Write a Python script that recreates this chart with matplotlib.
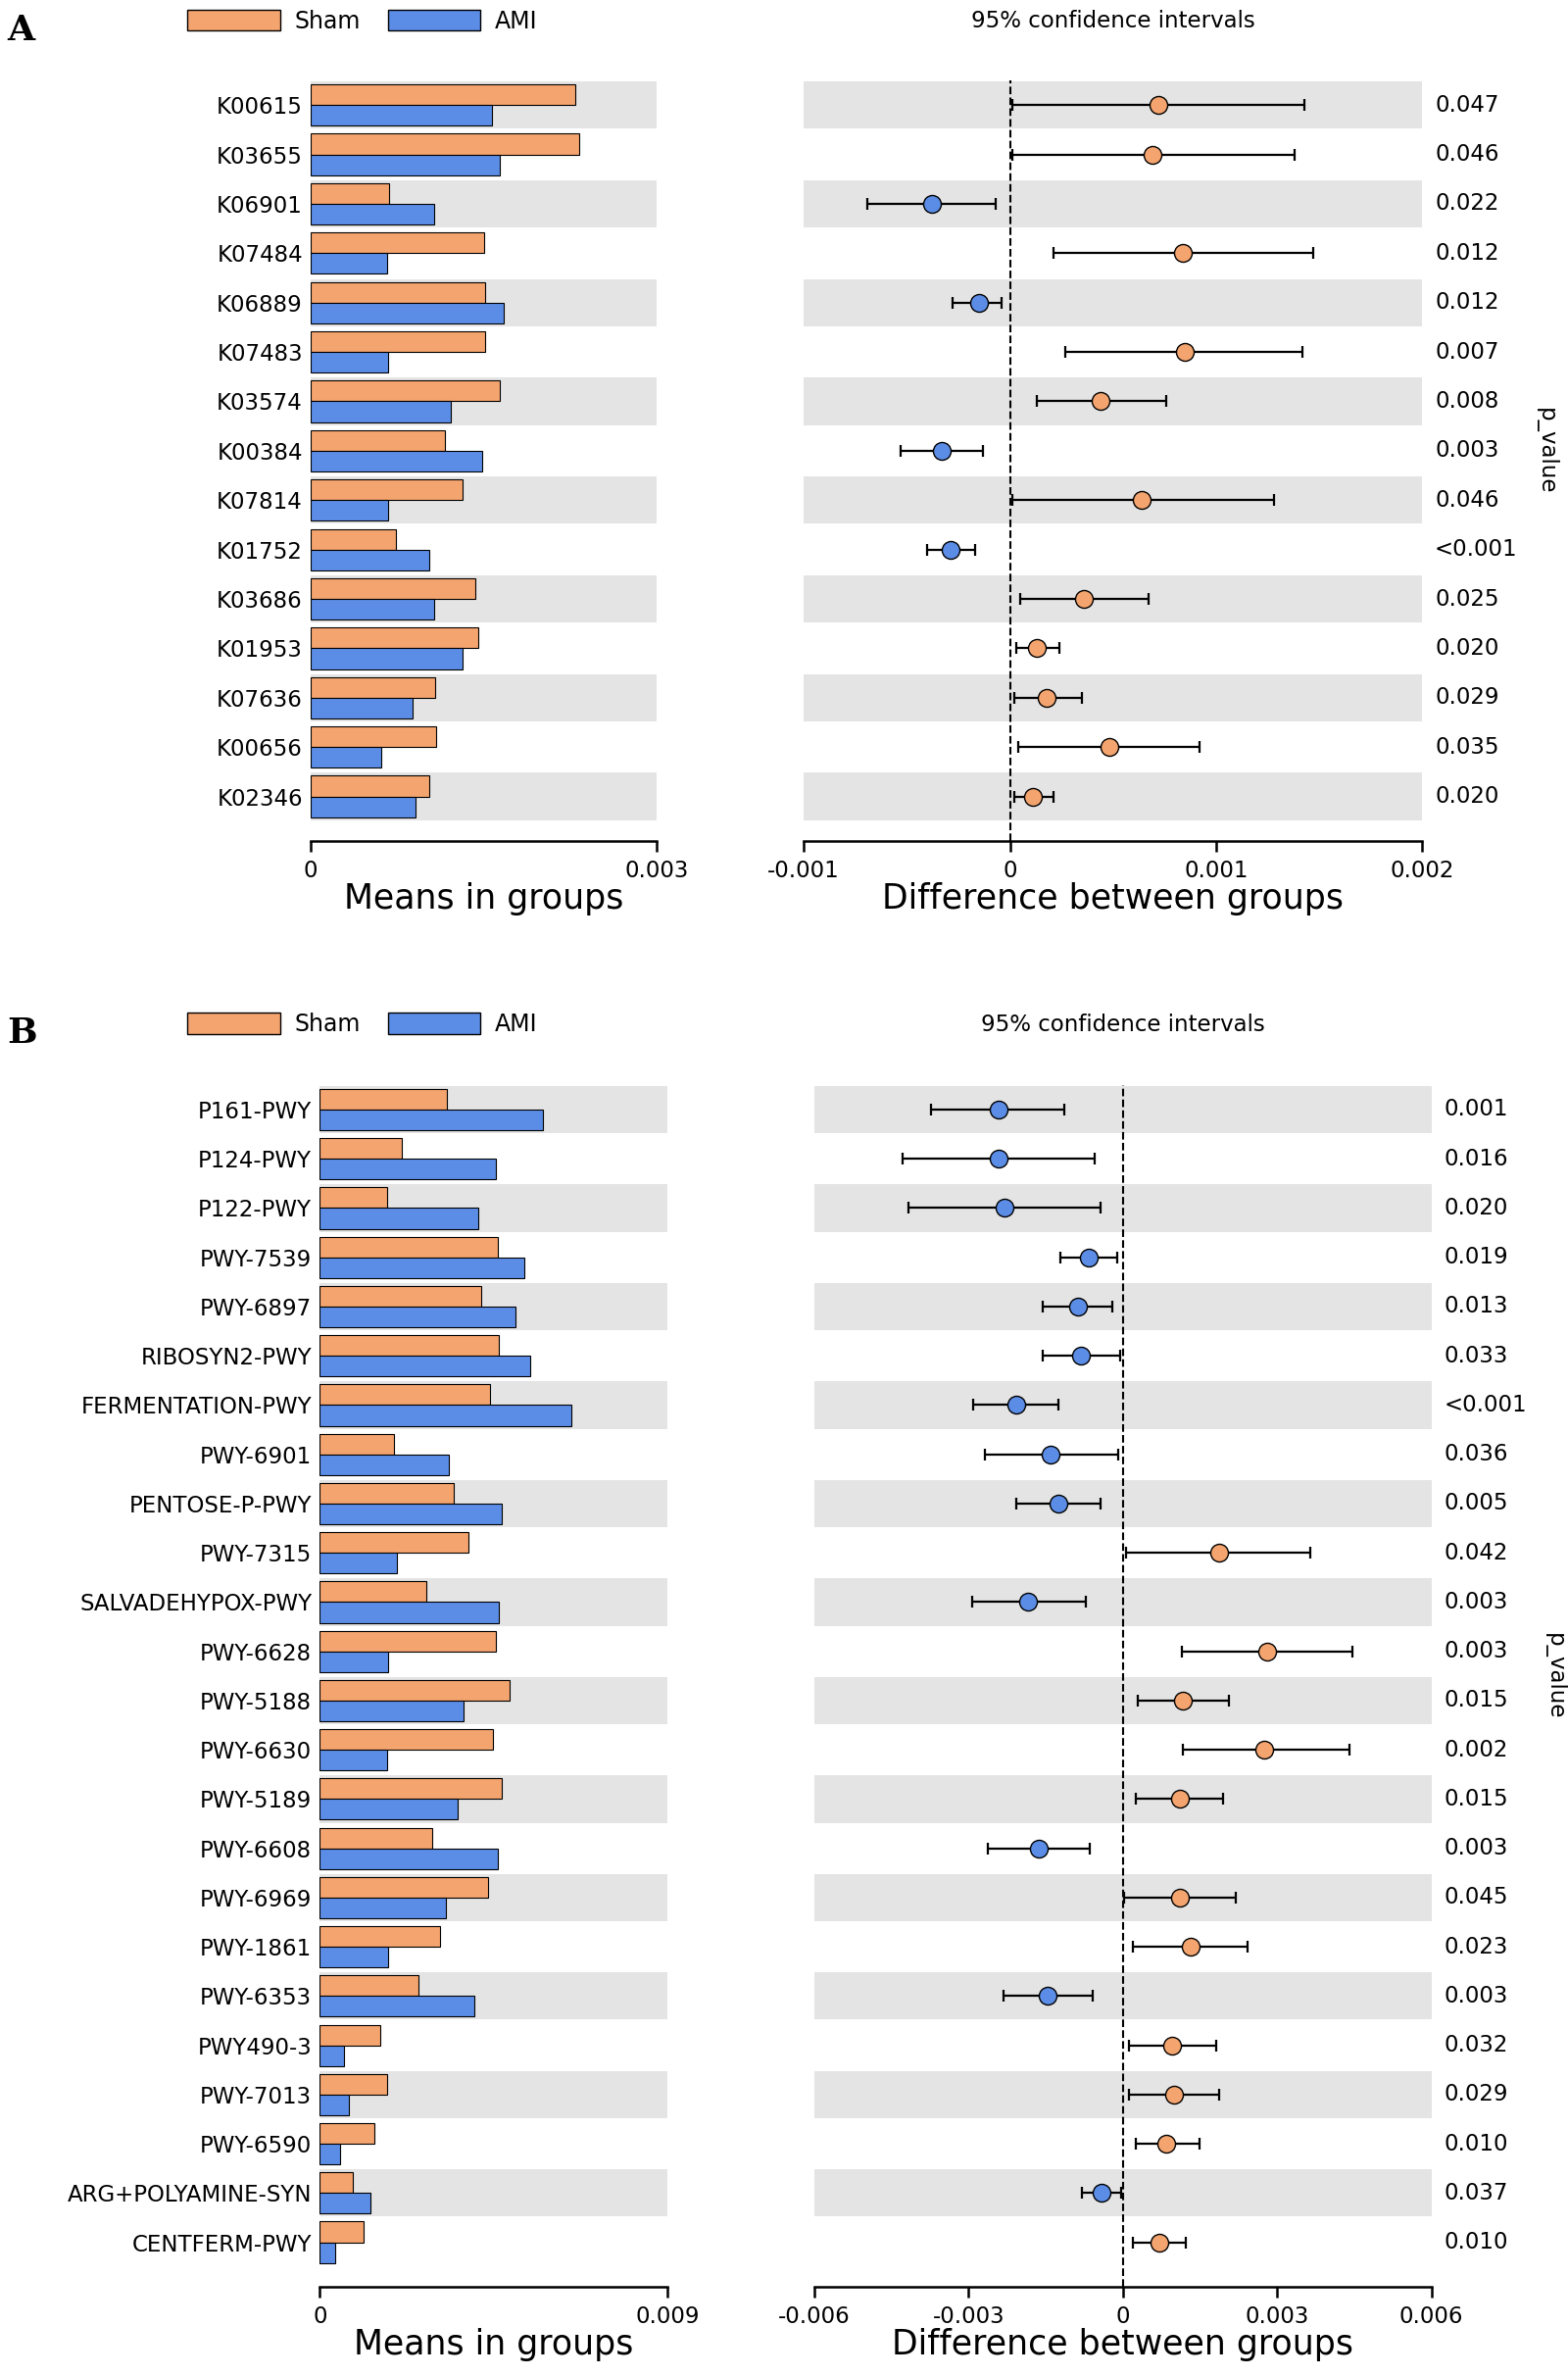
import matplotlib
matplotlib.use("Agg")
import matplotlib.pyplot as plt
from matplotlib.patches import Patch
from matplotlib.transforms import blended_transform_factory

SHAM = "#F4A46E"
AMI = "#5B8DE6"
BAND = "#E4E4E4"

# ---- panel A data ----
a_labels = ["K00615", "K03655", "K06901", "K07484", "K06889", "K07483", "K03574", "K00384",
            "K07814", "K01752", "K03686", "K01953", "K07636", "K00656", "K02346"]
a_sham = [0.00229, 0.00233, 0.00068, 0.0015, 0.00151, 0.00151, 0.00164, 0.00116,
          0.00132, 0.00074, 0.00143, 0.00145, 0.00108, 0.00109, 0.00103]
a_ami = [0.00157, 0.00164, 0.00107, 0.00066, 0.00167, 0.00067, 0.00121, 0.00149,
         0.00067, 0.00103, 0.00107, 0.00132, 0.00088, 0.00061, 0.00091]
a_diff = [0.00072, 0.00069, -0.00038, 0.00084, -0.00015, 0.00085, 0.00044, -0.00033,
          0.00064, -0.00029, 0.00036, 0.00013, 0.00018, 0.00048, 0.00011]
a_lo = [0.00001, 0.00001, -0.00069, 0.00021, -0.00028, 0.00027, 0.00013, -0.00053,
        0.00001, -0.0004, 0.00005, 0.00003, 0.00002, 0.00004, 0.00002]
a_hi = [0.00143, 0.00138, -0.00007, 0.00147, -0.00004, 0.00142, 0.00076, -0.00013,
        0.00128, -0.00017, 0.00067, 0.00024, 0.00035, 0.00092, 0.00021]
a_p = ["0.047", "0.046", "0.022", "0.012", "0.012", "0.007", "0.008", "0.003",
       "0.046", "<0.001", "0.025", "0.020", "0.029", "0.035", "0.020"]

# ---- panel B data ----
b_labels = ["P161-PWY", "P124-PWY", "P122-PWY", "PWY-7539", "PWY-6897", "RIBOSYN2-PWY",
            "FERMENTATION-PWY", "PWY-6901", "PENTOSE-P-PWY", "PWY-7315", "SALVADEHYPOX-PWY",
            "PWY-6628", "PWY-5188", "PWY-6630", "PWY-5189", "PWY-6608", "PWY-6969",
            "PWY-1861", "PWY-6353", "PWY490-3", "PWY-7013", "PWY-6590",
            "ARG+POLYAMINE-SYN", "CENTFERM-PWY"]
b_sham = [0.0033, 0.00212, 0.00173, 0.0046, 0.00417, 0.00464, 0.0044, 0.00193, 0.00346,
          0.00385, 0.00275, 0.00456, 0.00491, 0.00448, 0.00472, 0.00291, 0.00436, 0.0031,
          0.00255, 0.00157, 0.00173, 0.00141, 0.00086, 0.00114]
b_ami = [0.00578, 0.00456, 0.00409, 0.0053, 0.00507, 0.00546, 0.00652, 0.00334, 0.00472,
         0.002, 0.00464, 0.00177, 0.00373, 0.00173, 0.00358, 0.0046, 0.00326, 0.00177,
         0.00401, 0.00063, 0.00075, 0.00051, 0.0013, 0.00039]
b_diff = [-0.00242, -0.00242, -0.0023, -0.00067, -0.00087, -0.00082, -0.00207, -0.0014,
          -0.00125, 0.00187, -0.00184, 0.0028, 0.00117, 0.00274, 0.00111, -0.00163,
          0.00111, 0.00131, -0.00146, 0.00096, 0.00099, 0.00085, -0.00041, 0.0007]
b_lo = [-0.00373, -0.00429, -0.00417, -0.00122, -0.00155, -0.00155, -0.00292, -0.00268,
        -0.00207, 0.00006, -0.00294, 0.00114, 0.00029, 0.00117, 0.00026, -0.00262,
        0.00003, 0.0002, -0.00233, 0.00012, 0.00012, 0.00026, -0.00079, 0.0002]
b_hi = [-0.00114, -0.00055, -0.00044, -0.00012, -0.0002, -0.00006, -0.00125, -0.00009,
        -0.00044, 0.00364, -0.00073, 0.00446, 0.00207, 0.0044, 0.00195, -0.00064,
        0.00219, 0.00242, -0.00058, 0.00181, 0.00187, 0.00149, -0.00003, 0.00122]
b_p = ["0.001", "0.016", "0.020", "0.019", "0.013", "0.033", "<0.001", "0.036", "0.005",
       "0.042", "0.003", "0.003", "0.015", "0.002", "0.015", "0.003", "0.045", "0.023",
       "0.003", "0.032", "0.029", "0.010", "0.037", "0.010"]

W, H = 1034, 1568
FS = 16.5
fig = plt.figure(figsize=(16, 24.24), dpi=100)


def rect(x0, x1, y0, y1):
    return [x0 / W, 1 - y1 / H, (x1 - x0) / W, (y1 - y0) / H]


def bands(ax, n):
    for i in range(0, n, 2):
        ax.axhspan(i - 0.48, i + 0.48, color=BAND, zorder=0, lw=0)


def style(ax, n, xlim, ticks, ticklabels):
    ax.set_ylim(n - 0.5 + 0.4, -0.5)
    ax.set_xlim(*xlim)
    for s in ["top", "right", "left"]:
        ax.spines[s].set_visible(False)
    ax.spines["bottom"].set_linewidth(1.8)
    ax.set_xticks(ticks)
    ax.set_xticklabels(ticklabels, fontsize=FS)
    ax.tick_params(axis="x", length=8, width=1.8, pad=6)
    ax.tick_params(axis="y", length=0, pad=6)


def panel(letter, top_y, labels, sham, ami, diff, lo, hi, pv,
          lx, rx, y0, y1, bmax, dlim, dticks, dticklabels):
    n = len(labels)
    ys = list(range(n))
    ax1 = fig.add_axes(rect(lx[0], lx[1], y0, y1))
    bands(ax1, n)
    ax1.barh([y - 0.21 for y in ys], sham, height=0.42, color=SHAM, edgecolor="black", lw=0.8)
    ax1.barh([y + 0.21 for y in ys], ami, height=0.42, color=AMI, edgecolor="black", lw=0.8)
    style(ax1, n, (0, bmax), [0, bmax], ["0", f"{bmax:g}"])
    ax1.set_yticks(ys)
    ax1.set_yticklabels(labels, fontsize=FS)
    ax1.set_xlabel("Means in groups", fontsize=25, labelpad=0)

    ax2 = fig.add_axes(rect(rx[0], rx[1], y0, y1))
    bands(ax2, n)
    ax2.axvline(0, color="black", ls="--", lw=1.5)
    for y, d, l, h in zip(ys, diff, lo, hi):
        c = SHAM if d > 0 else AMI
        ax2.errorbar(d, y, xerr=[[d - l], [h - d]], fmt="o", color="black", mfc=c, mec="black",
                     ms=13, elinewidth=1.6, capsize=4, capthick=1.6)
    style(ax2, n, dlim, dticks, dticklabels)
    ax2.set_yticks([])
    ax2.set_xlabel("Difference between groups", fontsize=25, labelpad=0)
    tr = blended_transform_factory(ax2.transAxes, ax2.transData)
    for y, p in zip(ys, pv):
        ax2.text(1.02, y, p, transform=tr, va="center", ha="left", fontsize=FS)
    ax2.text(1.2, (n - 1) / 2, "p_value", transform=tr, rotation=-90, va="center",
             ha="center", fontsize=FS)

    fig.text((rx[0] + rx[1]) / 2 / W, 1 - top_y / H, "95% confidence intervals",
             ha="center", va="center", fontsize=FS)
    fig.text(5 / W, 1 - (top_y + 6) / H, letter, fontsize=26, fontweight="bold",
             family="DejaVu Serif", va="center")
    handles = [Patch(facecolor=SHAM, edgecolor="black", label="Sham"),
               Patch(facecolor=AMI, edgecolor="black", label="AMI")]
    fig.legend(handles=handles, ncol=2, frameon=False, fontsize=17, handlelength=4.0,
               handleheight=1.0, columnspacing=1.2, handletextpad=0.6,
               loc="center left", bbox_to_anchor=(110 / W, 1 - top_y / H))


panel("A", 14, a_labels, a_sham, a_ami, a_diff, a_lo, a_hi, a_p,
      (205, 433), (530, 938), 53, 555, 0.003,
      (-0.001, 0.002), [-0.001, 0, 0.001, 0.002], ["-0.001", "0", "0.001", "0.002"])
panel("B", 676, b_labels, b_sham, b_ami, b_diff, b_lo, b_hi, b_p,
      (211, 440), (537, 944), 716, 1509, 0.009,
      (-0.006, 0.006), [-0.006, -0.003, 0, 0.003, 0.006],
      ["-0.006", "-0.003", "0", "0.003", "0.006"])

fig.savefig("out.png", dpi=100)
